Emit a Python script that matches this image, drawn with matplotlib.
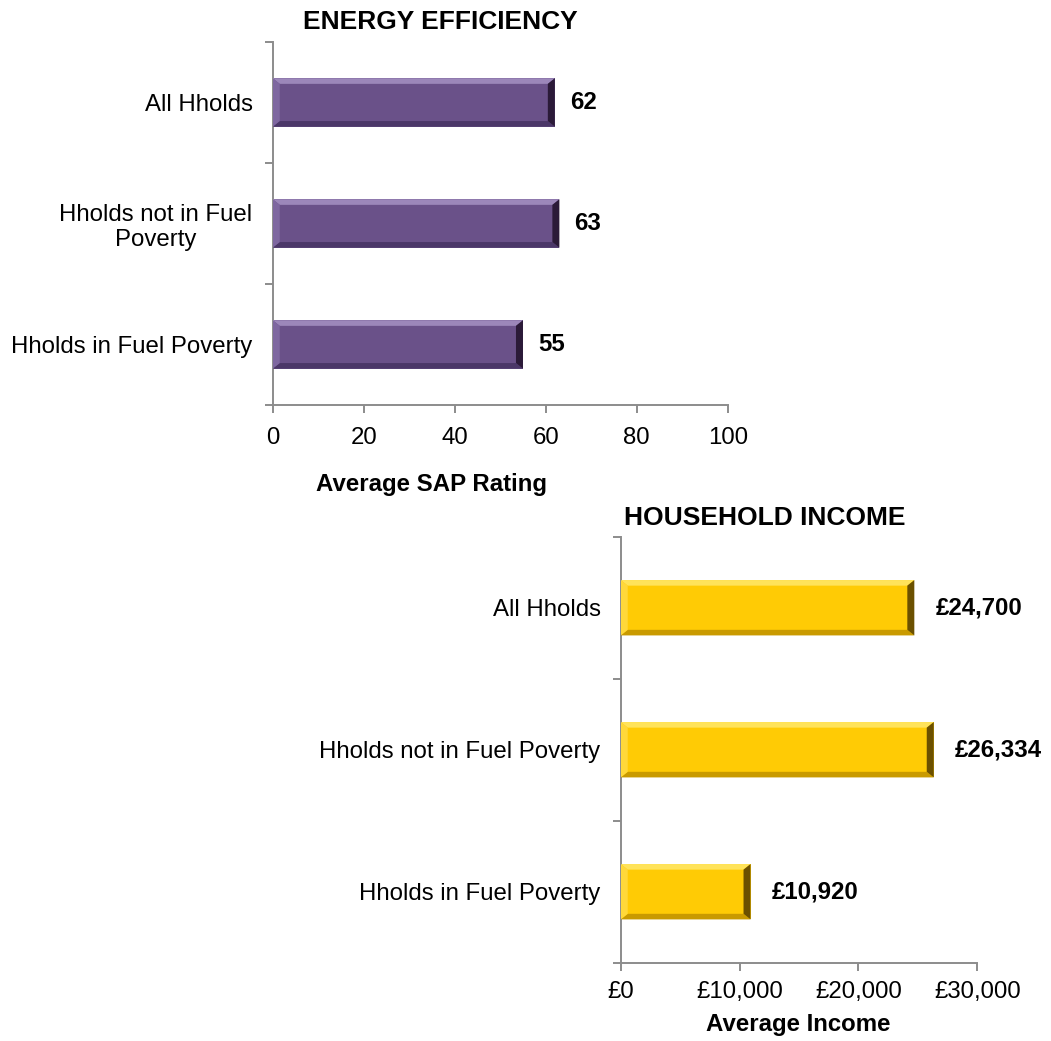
import matplotlib.pyplot as plt
from matplotlib.patches import Polygon
from matplotlib.ticker import FuncFormatter

plt.rcParams['font.family'] = ['Liberation Sans', 'DejaVu Sans']

categories = ['Hholds in Fuel Poverty', 'Hholds not in Fuel\nPoverty', 'All Hholds']
categories_income = ['Hholds in Fuel Poverty', 'Hholds not in Fuel Poverty', 'All Hholds']
sap_rating = [55, 63, 62]
avg_income = [10920, 26334, 24700]

sap_ticks = [0, 20, 40, 60, 80, 100]
income_ticks = [0, 10000, 20000, 30000]

FS = 17.3
GREY = '#8c8c8c'

purple = dict(main='#6a5189', top='#9c87ba', bottom='#4b3768', left='#7e67a0', right='#2b1a38')
gold = dict(main='#ffcb05', top='#ffe35a', bottom='#c99a00', left='#ffd83a', right='#6b5000')


def bevel_bars(ax, values, shades, height=0.4, bev_px=7):
    bars = ax.barh(range(len(values)), values, height=height, color=shades['main'],
                   edgecolor='none', zorder=2)
    bbox = ax.get_window_extent()
    x0, x1 = ax.get_xlim()
    y0, y1 = ax.get_ylim()
    bx = bev_px * (x1 - x0) / bbox.width
    by = bev_px * 0.8 * (y1 - y0) / bbox.height
    for b in bars:
        l, r = b.get_x(), b.get_x() + b.get_width()
        lo, hi = b.get_y(), b.get_y() + b.get_height()
        pieces = [
            ([(l, hi), (r, hi), (r - bx, hi - by), (l + bx, hi - by)], shades['top']),
            ([(l, lo), (r, lo), (r - bx, lo + by), (l + bx, lo + by)], shades['bottom']),
            ([(l, lo), (l, hi), (l + bx, hi - by), (l + bx, lo + by)], shades['left']),
            ([(r, lo), (r, hi), (r - bx, hi - by), (r - bx, lo + by)], shades['right']),
        ]
        for pts, c in pieces:
            ax.add_patch(Polygon(pts, closed=True, facecolor=c, edgecolor='none', zorder=3))
    return bars


def style_axes(ax, labels, n, xpad):
    ax.set_ylim(-0.5, n - 0.5)
    ax.set_yticks([i - 0.5 for i in range(n + 1)])
    ax.set_yticklabels([])
    ax.set_yticks(range(n), minor=True)
    ax.set_yticklabels(labels, minor=True, fontsize=FS, ha='right', multialignment='center')
    ax.tick_params(axis='y', which='minor', length=0, pad=14.5)
    ax.tick_params(axis='y', which='major', length=6, width=1.4, color=GREY)
    ax.tick_params(axis='x', length=6, width=1.4, color=GREY, labelsize=FS, pad=xpad)
    for s in ['top', 'right']:
        ax.spines[s].set_visible(False)
    for s in ['left', 'bottom']:
        ax.spines[s].set_color(GREY)
        ax.spines[s].set_linewidth(1.4)


fig = plt.figure(figsize=(10.51, 10.41), dpi=100)

# energy efficiency panel
ax1 = fig.add_axes([0.2595, 0.6110, 0.4329, 0.3487])
ax1.set_xlim(0, 100)
ax1.set_xticks(sap_ticks)
style_axes(ax1, categories, len(categories), xpad=10)
bevel_bars(ax1, sap_rating, purple)
for i, v in enumerate(sap_rating):
    ax1.annotate(str(v), (v, i), xytext=(15, 0), textcoords='offset pixels',
                 va='center', ha='left', fontsize=FS, fontweight='bold')
fig.text(440 / 1051, 1 - 22 / 1041, 'ENERGY EFFICIENCY', ha='center', va='center',
         fontsize=19, fontweight='bold')
fig.text(432 / 1051, 1 - 484 / 1041, 'Average SAP Rating', ha='center', va='center',
         fontsize=FS, fontweight='bold')

# household income panel
ax2 = fig.add_axes([0.5906, 0.0752, 0.3393, 0.4092])
ax2.set_xlim(0, 30000)
ax2.set_xticks(income_ticks)
ax2.xaxis.set_major_formatter(FuncFormatter(lambda x, p: '£{:,.0f}'.format(x)))
style_axes(ax2, categories_income, len(categories_income), xpad=7)
bevel_bars(ax2, avg_income, gold, height=0.39)
for i, v in enumerate(avg_income):
    ax2.annotate('£{:,}'.format(v), (v, i), xytext=(21, 0), textcoords='offset pixels',
                 va='center', ha='left', fontsize=FS, fontweight='bold')
fig.text(765 / 1051, 1 - 518 / 1041, 'HOUSEHOLD INCOME', ha='center', va='center',
         fontsize=19, fontweight='bold')
fig.text(798 / 1051, 1 - 1025 / 1041, 'Average Income', ha='center', va='center',
         fontsize=FS, fontweight='bold')

fig.savefig('out.png', dpi=100)
